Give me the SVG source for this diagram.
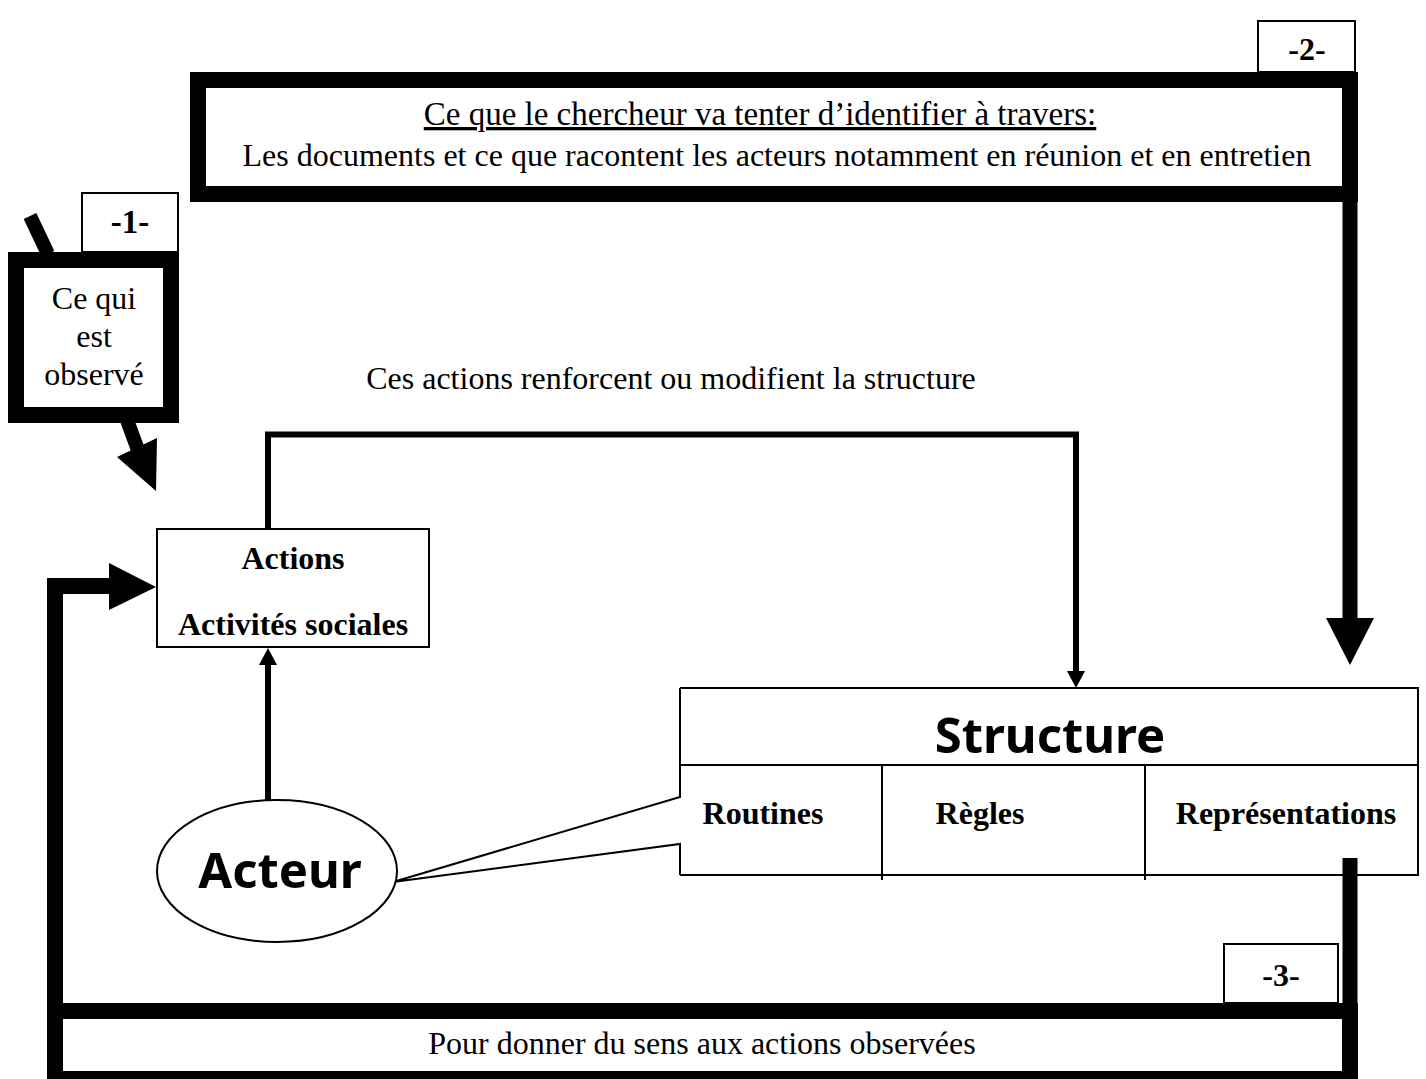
<svg xmlns="http://www.w3.org/2000/svg" width="1426" height="1079" viewBox="0 0 1426 1079">
<style>
.t{font-family:"Liberation Serif","Times New Roman",serif;fill:#000}
.b{font-weight:bold}
.s{font-family:"Noto Sans","Open Sans",sans-serif;font-weight:bold;fill:#000}
.thin{fill:#fff;stroke:#000;stroke-width:2}
.thick{fill:#fff;stroke:#000;stroke-width:16}
.ln{fill:none;stroke:#000}
</style>
<rect width="1426" height="1079" fill="#fff"/>
<g id="connectors">
  <line class="ln" x1="30" y1="216" x2="48" y2="254" stroke-width="14"/>
  <line class="ln" x1="127" y1="420" x2="138" y2="450" stroke-width="14"/>
  <polygon points="117,457 157,438 156,491" fill="#000"/>
  <line class="ln" x1="1350" y1="194" x2="1350" y2="620" stroke-width="15"/>
  <polygon points="1326,618 1374,618 1350,665" fill="#000"/>
  <polyline class="ln" points="268,529 268,434.5 1076,434.5 1076,674" stroke-width="6"/>
  <polygon points="1067,671 1085,671 1076,688" fill="#000"/>
  <line class="ln" x1="268" y1="800" x2="268" y2="662" stroke-width="6"/>
  <polygon points="259,665 277,665 268,648" fill="#000"/>
  <line class="ln" x1="1350" y1="858" x2="1350" y2="1011" stroke-width="15"/>
  <polyline class="ln" points="55,1011 55,586 110,586" stroke-width="16" stroke-linejoin="miter"/>
  <polygon points="109,563 109,610 156,587" fill="#000"/>
  <polyline class="ln" points="680,688 680,797 393,882 680,844 680,875" stroke-width="2"/>
</g>
<g id="box1">
  <rect class="thin" x="82" y="193" width="96" height="59"/>
  <text class="t b" x="130" y="233" font-size="33" text-anchor="middle">-1-</text>
  <rect class="thick" x="16" y="260" width="155" height="155"/>
  <text class="t" font-size="32" text-anchor="middle"><tspan x="94" y="309">Ce qui</tspan><tspan x="94" y="347">est</tspan><tspan x="94" y="385">observé</tspan></text>
</g>
<g id="box2">
  <rect class="thin" x="1258" y="21" width="97" height="51"/>
  <text class="t b" x="1307" y="60" font-size="32" text-anchor="middle">-2-</text>
  <rect class="thick" x="198" y="80" width="1152" height="114"/>
  <text class="t" x="760" y="125" font-size="33" text-anchor="middle" text-decoration="underline">Ce que le chercheur va tenter d’identifier à travers:</text>
  <text class="t" x="777" y="166" font-size="32" text-anchor="middle">Les documents et ce que racontent les acteurs notamment en réunion et en entretien</text>
</g>
<g id="label-actions">
  <text class="t" x="671" y="389" font-size="32" text-anchor="middle">Ces actions renforcent ou modifient la structure</text>
</g>
<g id="actions">
  <rect class="thin" x="157" y="529" width="272" height="118"/>
  <text class="t b" x="293" y="569" font-size="32" text-anchor="middle">Actions</text>
  <text class="t b" x="293" y="635" font-size="32" text-anchor="middle">Activités sociales</text>
</g>
<g id="structure">
  <polyline class="ln" points="680,688 1418,688 1418,875 680,875" stroke-width="2"/>
  <line class="ln" x1="680" y1="765" x2="1418" y2="765" stroke-width="2"/>
  <line class="ln" x1="882" y1="765" x2="882" y2="880" stroke-width="2"/>
  <line class="ln" x1="1145" y1="765" x2="1145" y2="880" stroke-width="2"/>
  <text class="s" x="1050" y="753" font-size="49" text-anchor="middle">Structure</text>
  <text class="t b" x="763" y="824" font-size="32" text-anchor="middle">Routines</text>
  <text class="t b" x="980" y="824" font-size="32" text-anchor="middle">Règles</text>
  <text class="t b" x="1286" y="824" font-size="32" text-anchor="middle">Représentations</text>
</g>
<g id="acteur">
  <ellipse cx="277" cy="871" rx="120" ry="71" fill="#fff" stroke="#000" stroke-width="2"/>
  <text class="s" x="280" y="888" font-size="49" text-anchor="middle">Acteur</text>
</g>
<g id="box3">
  <rect class="thin" x="1224" y="944" width="114" height="59"/>
  <text class="t b" x="1281" y="986" font-size="32" text-anchor="middle">-3-</text>
  <rect class="thick" x="55" y="1011" width="1295" height="68"/>
  <text class="t" x="702" y="1054" font-size="32" text-anchor="middle">Pour donner du sens aux actions observées</text>
</g>
</svg>
